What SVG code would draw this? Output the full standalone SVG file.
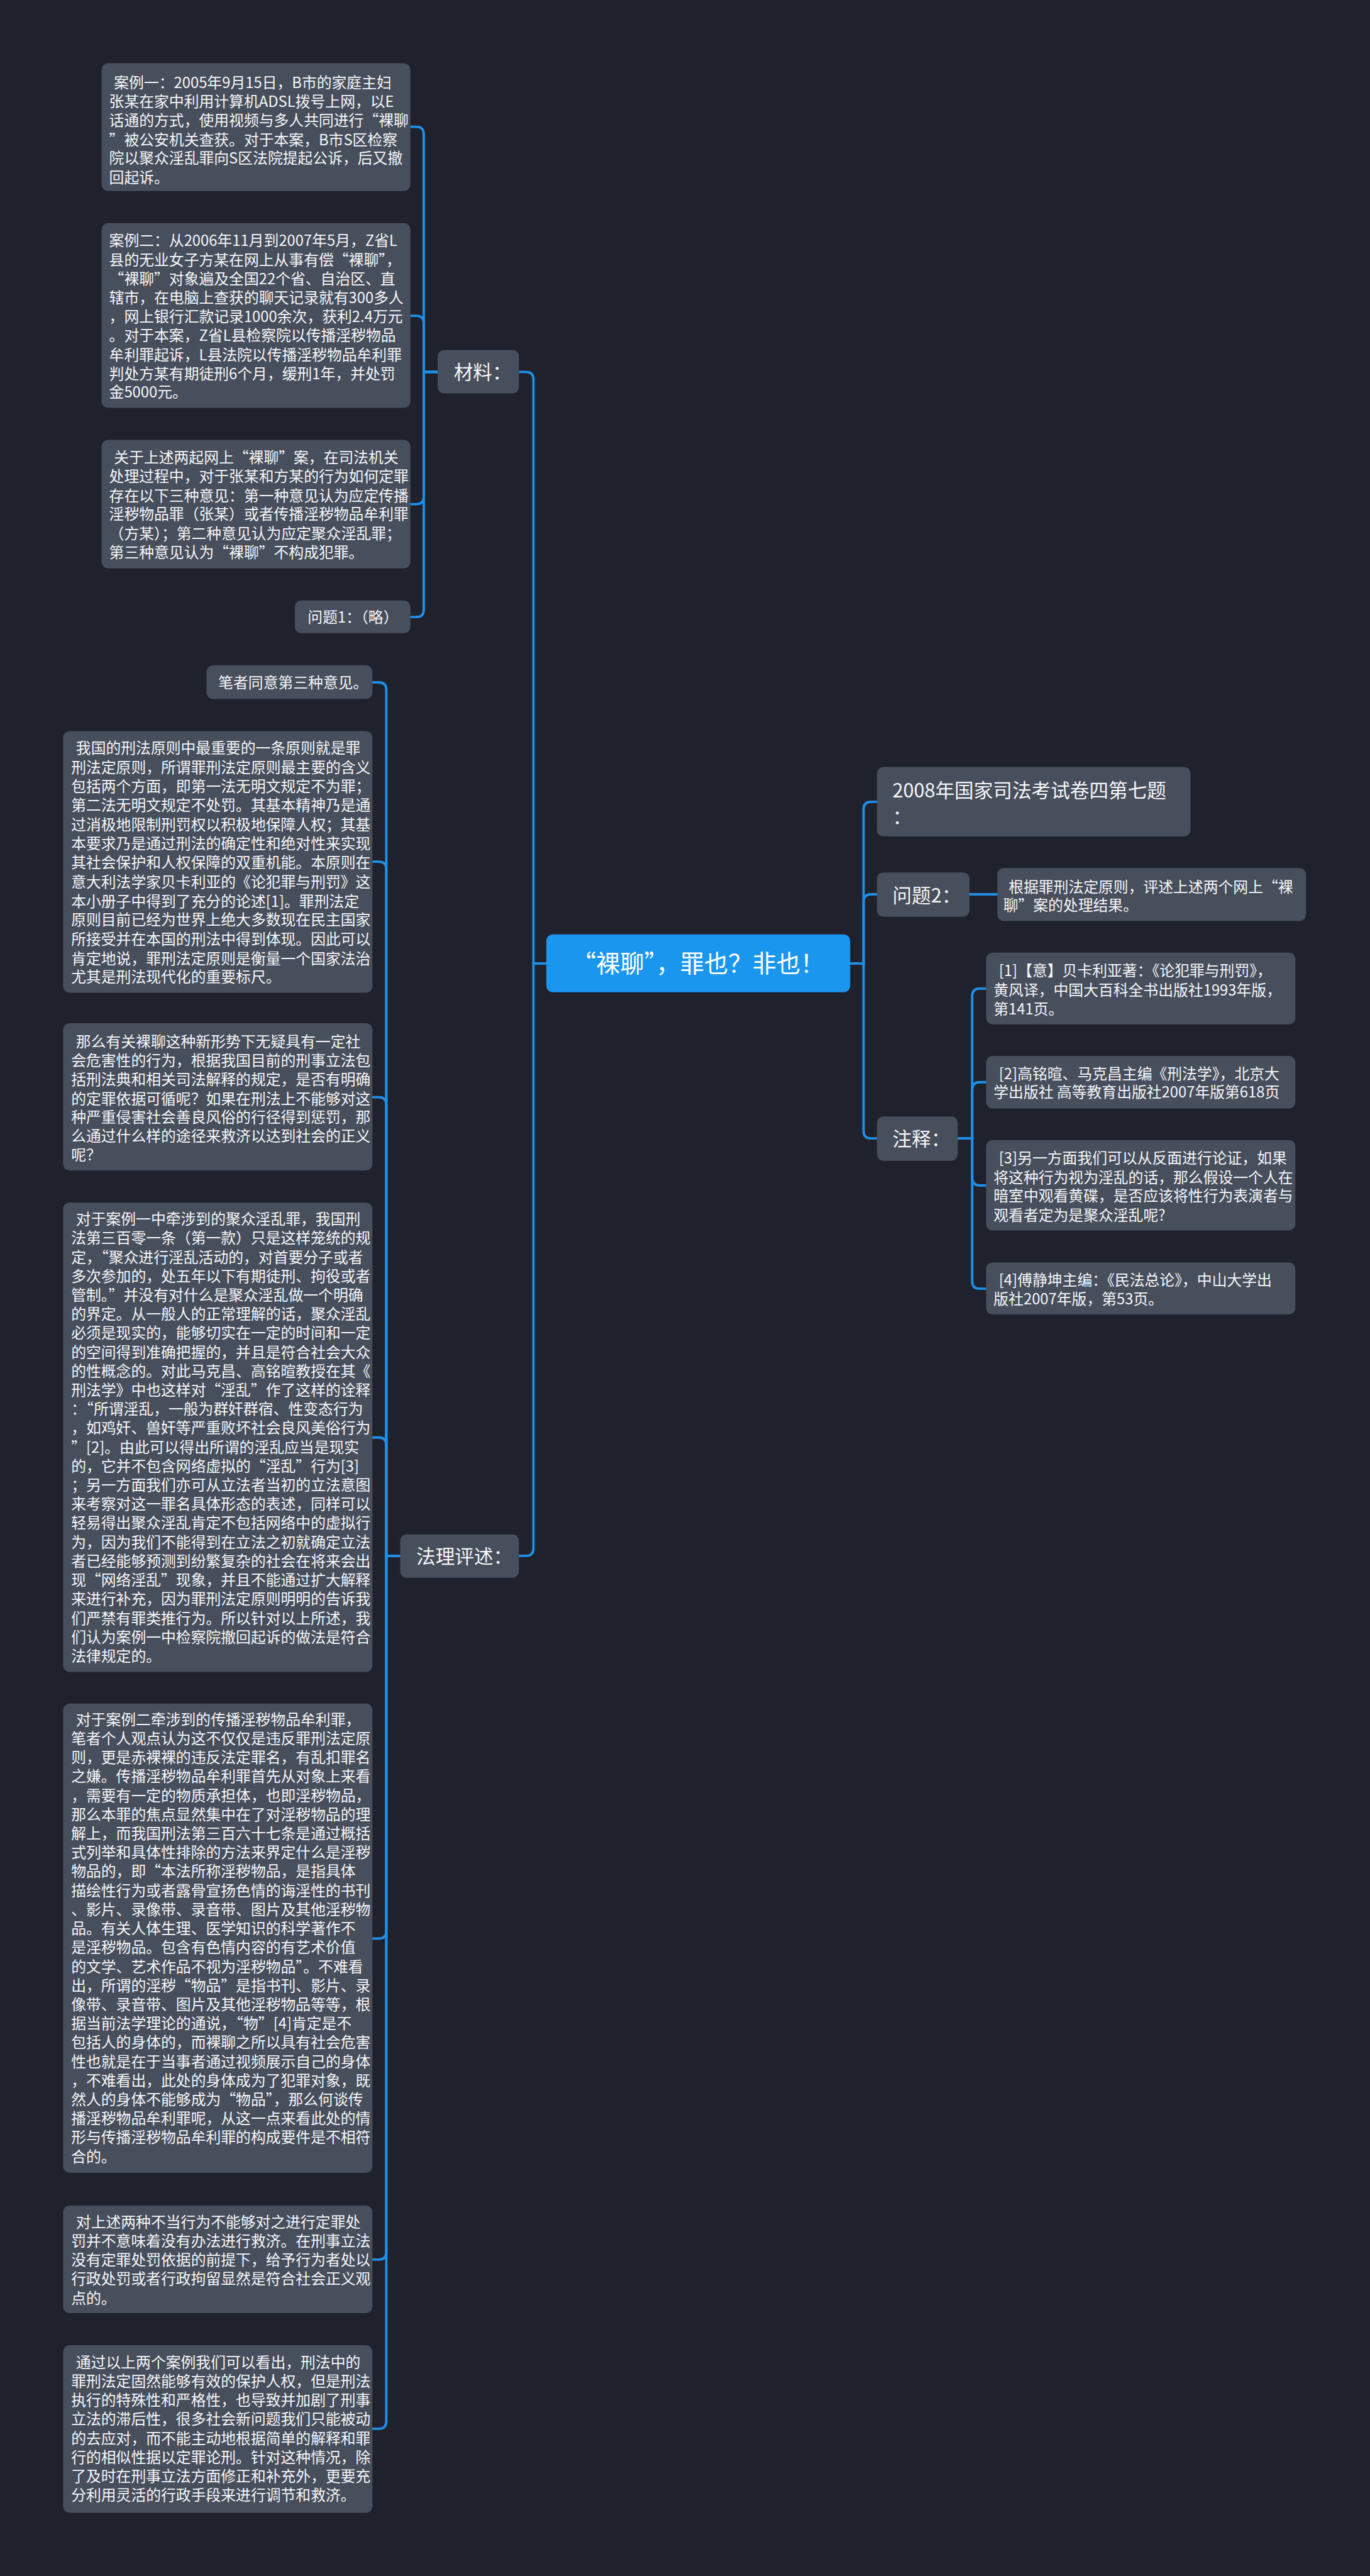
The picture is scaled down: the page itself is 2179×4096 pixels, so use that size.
<svg xmlns="http://www.w3.org/2000/svg" width="2179" height="4096" viewBox="0 0 2179 4096">
<style>
.bg{fill:#1f222d}
.n{fill:#474e5c}
.root{fill:#1b96ef}
.c{fill:none;stroke:#1f8fe6;stroke-width:4.5;stroke-linecap:round}
.t{font-family:"Noto Sans CJK SC","Noto Sans",sans-serif;fill:#f5f6f8;font-size:28px}
.t2{font-size:36px}
.t3{font-size:45px;fill:#ffffff}
</style>
<rect class="bg" x="0" y="0" width="2179" height="4096"/>
<g transform="scale(0.851)">
<g id="connectors">
<path class="c" d="M1021,1800 H997 V709 Q997,695 983,695 H970"/>
<path class="c" d="M1021,1800 H997 V2893 Q997,2907 983,2907 H970"/>
<path class="c" d="M818,695 H792 V251 Q792,237 778,237 H767"/>
<path class="c" d="M818,695 H792 V604 Q792,590 778,590 H767"/>
<path class="c" d="M818,695 H792 V928 Q792,942 778,942 H767"/>
<path class="c" d="M818,695 H792 V1139 Q792,1153 778,1153 H767"/>
<path class="c" d="M748,2907 H722 V1289 Q722,1275 708,1275 H696"/>
<path class="c" d="M748,2907 H722 V1624 Q722,1610 708,1610 H696"/>
<path class="c" d="M748,2907 H722 V2064 Q722,2050 708,2050 H696"/>
<path class="c" d="M748,2907 H722 V2700 Q722,2686 708,2686 H696"/>
<path class="c" d="M748,2907 H722 V3608 Q722,3622 708,3622 H696"/>
<path class="c" d="M748,2907 H722 V4208 Q722,4222 708,4222 H696"/>
<path class="c" d="M748,2907 H722 V4524 Q722,4538 708,4538 H696"/>
<path class="c" d="M1589,1800 H1614 V1512 Q1614,1498 1628,1498 H1639"/>
<path class="c" d="M1589,1800 H1614 V1685 Q1614,1671 1628,1671 H1639"/>
<path class="c" d="M1589,1800 H1614 V2113 Q1614,2127 1628,2127 H1639"/>
<path class="c" d="M1812,1671 H1864"/>
<path class="c" d="M1790,2127 H1817 V1861 Q1817,1847 1831,1847 H1843"/>
<path class="c" d="M1790,2127 H1817 V2036 Q1817,2022 1831,2022 H1843"/>
<path class="c" d="M1790,2127 H1817 V2201 Q1817,2215 1831,2215 H1843"/>
<path class="c" d="M1790,2127 H1817 V2394 Q1817,2408 1831,2408 H1843"/>
</g>

<g id="root">
<rect class="root" x="1021" y="1746" width="568" height="108" rx="12"/>
<text class="t t3" x="1305" y="1817" text-anchor="middle" textLength="472" lengthAdjust="spacing">“裸聊”，罪也？非也！</text>
</g>

<g id="cailiao">
<rect class="n" x="818" y="654" width="152" height="81" rx="12"/>
<text class="t t2" x="848" y="709">材料：</text>
</g>
<g id="falipingshu">
<rect class="n" x="748" y="2867" width="222" height="81" rx="12"/>
<text class="t t2" x="778" y="2921">法理评述：</text>
</g>
<g id="kaoshi">
<rect class="n" x="1639" y="1433" width="586" height="130" rx="12"/>
<text class="t t2"><tspan x="1668" y="1490">2008年国家司法考试卷四第七题</tspan><tspan x="1668" y="1539">：</tspan></text>
</g>
<g id="wenti2">
<rect class="n" x="1639" y="1630" width="173" height="83" rx="12"/>
<text class="t t2" x="1668" y="1686">问题2：</text>
</g>
<g id="zhushi">
<rect class="n" x="1639" y="2086" width="151" height="83" rx="12"/>
<text class="t t2" x="1668" y="2141">注释：</text>
</g>

<g id="wenti2-leaf">
<rect class="n" x="1864" y="1622" width="577" height="99" rx="12"/>
<text class="t"><tspan x="1885" y="1667">根据罪刑法定原则，评述上述两个网上“裸</tspan><tspan x="1875" y="1702">聊”案的处理结果。</tspan></text>
</g>

<g id="note1">
<rect class="n" x="1843" y="1780" width="578" height="134" rx="12"/>
<text class="t"><tspan x="1867" y="1824">[1]【意】贝卡利亚著：《论犯罪与刑罚》，</tspan><tspan x="1857" y="1860">黄风译，中国大百科全书出版社1993年版，</tspan><tspan x="1857" y="1895">第141页。</tspan></text>
</g>
<g id="note2">
<rect class="n" x="1843" y="1973" width="578" height="98" rx="12"/>
<text class="t"><tspan x="1867" y="2016">[2]高铭暄、马克昌主编《刑法学》，北京大</tspan><tspan x="1857" y="2051">学出版社 高等教育出版社2007年版第618页</tspan></text>
</g>
<g id="note3">
<rect class="n" x="1843" y="2130" width="578" height="169" rx="12"/>
<text class="t"><tspan x="1867" y="2174">[3]另一方面我们可以从反面进行论证，如果</tspan><tspan x="1857" y="2210">将这种行为视为淫乱的话，那么假设一个人在</tspan><tspan x="1857" y="2245">暗室中观看黄碟，是否应该将性行为表演者与</tspan><tspan x="1857" y="2281">观看者定为是聚众淫乱呢?</tspan></text>
</g>
<g id="note4">
<rect class="n" x="1843" y="2359" width="578" height="97" rx="12"/>
<text class="t"><tspan x="1867" y="2402">[4]傅静坤主编：《民法总论》，中山大学出</tspan><tspan x="1857" y="2437">版社2007年版，第53页。</tspan></text>
</g>

<g id="case1">
<rect class="n" x="190" y="118" width="577" height="239" rx="12"/>
<text class="t"><tspan x="213" y="164">案例一：2005年9月15日，B市的家庭主妇</tspan><tspan x="204" y="200">张某在家中利用计算机ADSL拨号上网，以E</tspan><tspan x="204" y="235">话通的方式，使用视频与多人共同进行“裸聊</tspan><tspan x="204" y="271">”被公安机关查获。对于本案，B市S区检察</tspan><tspan x="204" y="306">院以聚众淫乱罪向S区法院提起公诉，后又撤</tspan><tspan x="204" y="342">回起诉。</tspan></text>
</g>
<g id="case2">
<rect class="n" x="190" y="417" width="577" height="345" rx="12"/>
<text class="t"><tspan x="204" y="460">案例二：从2006年11月到2007年5月，Z省L</tspan><tspan x="204" y="496">县的无业女子方某在网上从事有偿“裸聊”，</tspan><tspan x="204" y="531">“裸聊”对象遍及全国22个省、自治区、直</tspan><tspan x="204" y="566">辖市，在电脑上查获的聊天记录就有300多人</tspan><tspan x="204" y="602">，网上银行汇款记录1000余次，获利2.4万元</tspan><tspan x="204" y="637">。对于本案，Z省L县检察院以传播淫秽物品</tspan><tspan x="204" y="673">牟利罪起诉，L县法院以传播淫秽物品牟利罪</tspan><tspan x="204" y="708">判处方某有期徒刑6个月，缓刑1年，并处罚</tspan><tspan x="204" y="743">金5000元。</tspan></text>
</g>
<g id="case3">
<rect class="n" x="190" y="822" width="577" height="240" rx="12"/>
<text class="t"><tspan x="213" y="865">关于上述两起网上“裸聊”案，在司法机关</tspan><tspan x="204" y="900">处理过程中，对于张某和方某的行为如何定罪</tspan><tspan x="204" y="936">存在以下三种意见：第一种意见认为应定传播</tspan><tspan x="204" y="971">淫秽物品罪（张某）或者传播淫秽物品牟利罪</tspan><tspan x="204" y="1007">（方某）；第二种意见认为应定聚众淫乱罪；</tspan><tspan x="204" y="1042">第三种意见认为“裸聊”不构成犯罪。</tspan></text>
</g>
<g id="wenti1">
<rect class="n" x="551" y="1122" width="216" height="61" rx="12"/>
<text class="t" x="575" y="1163">问题1：（略）</text>
</g>

<g id="bizhe">
<rect class="n" x="386" y="1243" width="310" height="63" rx="12"/>
<text class="t" x="408" y="1285">笔者同意第三种意见。</text>
</g>
<g id="para1">
<rect class="n" x="118" y="1366" width="578" height="489" rx="12"/>
<text class="t"><tspan x="142" y="1408">我国的刑法原则中最重要的一条原则就是罪</tspan><tspan x="133" y="1444">刑法定原则，所谓罪刑法定原则最主要的含义</tspan><tspan x="133" y="1479">包括两个方面，即第一法无明文规定不为罪；</tspan><tspan x="133" y="1515">第二法无明文规定不处罚。其基本精神乃是通</tspan><tspan x="133" y="1551">过消极地限制刑罚权以积极地保障人权；其基</tspan><tspan x="133" y="1586">本要求乃是通过刑法的确定性和绝对性来实现</tspan><tspan x="133" y="1622">其社会保护和人权保障的双重机能。本原则在</tspan><tspan x="133" y="1658">意大利法学家贝卡利亚的《论犯罪与刑罚》这</tspan><tspan x="133" y="1694">本小册子中得到了充分的论述[1]。罪刑法定</tspan><tspan x="133" y="1729">原则目前已经为世界上绝大多数现在民主国家</tspan><tspan x="133" y="1765">所接受并在本国的刑法中得到体现。因此可以</tspan><tspan x="133" y="1801">肯定地说，罪刑法定原则是衡量一个国家法治</tspan><tspan x="133" y="1836">尤其是刑法现代化的重要标尺。</tspan></text>
</g>
<g id="para2">
<rect class="n" x="118" y="1912" width="578" height="275" rx="12"/>
<text class="t"><tspan x="142" y="1957">那么有关裸聊这种新形势下无疑具有一定社</tspan><tspan x="133" y="1992">会危害性的行为，根据我国目前的刑事立法包</tspan><tspan x="133" y="2027">括刑法典和相关司法解释的规定，是否有明确</tspan><tspan x="133" y="2063">的定罪依据可循呢？如果在刑法上不能够对这</tspan><tspan x="133" y="2098">种严重侵害社会善良风俗的行径得到惩罚，那</tspan><tspan x="133" y="2133">么通过什么样的途径来救济以达到社会的正义</tspan><tspan x="133" y="2168">呢？</tspan></text>
</g>
<g id="para3">
<rect class="n" x="118" y="2247" width="578" height="877" rx="12"/>
<text class="t"><tspan x="142" y="2288">对于案例一中牵涉到的聚众淫乱罪，我国刑</tspan><tspan x="133" y="2323.5">法第三百零一条（第一款）只是这样笼统的规</tspan><tspan x="133" y="2359">定，“聚众进行淫乱活动的，对首要分子或者</tspan><tspan x="133" y="2394.5">多次参加的，处五年以下有期徒刑、拘役或者</tspan><tspan x="133" y="2430">管制。”并没有对什么是聚众淫乱做一个明确</tspan><tspan x="133" y="2465.5">的界定。从一般人的正常理解的话，聚众淫乱</tspan><tspan x="133" y="2501">必须是现实的，能够切实在一定的时间和一定</tspan><tspan x="133" y="2536.5">的空间得到准确把握的，并且是符合社会大众</tspan><tspan x="133" y="2572">的性概念的。对此马克昌、高铭暄教授在其《</tspan><tspan x="133" y="2607.5">刑法学》中也这样对“淫乱”作了这样的诠释</tspan><tspan x="133" y="2643">：“所谓淫乱，一般为群奸群宿、性变态行为</tspan><tspan x="133" y="2678.5">，如鸡奸、兽奸等严重败坏社会良风美俗行为</tspan><tspan x="133" y="2714">”[2]。由此可以得出所谓的淫乱应当是现实</tspan><tspan x="133" y="2749.5">的，它并不包含网络虚拟的“淫乱”行为[3]</tspan><tspan x="133" y="2785">；另一方面我们亦可从立法者当初的立法意图</tspan><tspan x="133" y="2820.5">来考察对这一罪名具体形态的表述，同样可以</tspan><tspan x="133" y="2856">轻易得出聚众淫乱肯定不包括网络中的虚拟行</tspan><tspan x="133" y="2891.5">为，因为我们不能得到在立法之初就确定立法</tspan><tspan x="133" y="2927">者已经能够预测到纷繁复杂的社会在将来会出</tspan><tspan x="133" y="2962.5">现“网络淫乱”现象，并且不能通过扩大解释</tspan><tspan x="133" y="2998">来进行补充，因为罪刑法定原则明明的告诉我</tspan><tspan x="133" y="3033.5">们严禁有罪类推行为。所以针对以上所述，我</tspan><tspan x="133" y="3069">们认为案例一中检察院撤回起诉的做法是符合</tspan><tspan x="133" y="3104.5">法律规定的。</tspan></text>
</g>
<g id="para4">
<rect class="n" x="118" y="3183" width="578" height="877" rx="12"/>
<text class="t"><tspan x="142" y="3223">对于案例二牵涉到的传播淫秽物品牟利罪，</tspan><tspan x="133" y="3258.5">笔者个人观点认为这不仅仅是违反罪刑法定原</tspan><tspan x="133" y="3294">则，更是赤裸裸的违反法定罪名，有乱扣罪名</tspan><tspan x="133" y="3329.5">之嫌。传播淫秽物品牟利罪首先从对象上来看</tspan><tspan x="133" y="3365">，需要有一定的物质承担体，也即淫秽物品，</tspan><tspan x="133" y="3400.5">那么本罪的焦点显然集中在了对淫秽物品的理</tspan><tspan x="133" y="3436">解上，而我国刑法第三百六十七条是通过概括</tspan><tspan x="133" y="3471.5">式列举和具体性排除的方法来界定什么是淫秽</tspan><tspan x="133" y="3507">物品的，即“本法所称淫秽物品，是指具体</tspan><tspan x="133" y="3542.5">描绘性行为或者露骨宣扬色情的诲淫性的书刊</tspan><tspan x="133" y="3578">、影片、录像带、录音带、图片及其他淫秽物</tspan><tspan x="133" y="3613.5">品。有关人体生理、医学知识的科学著作不</tspan><tspan x="133" y="3649">是淫秽物品。包含有色情内容的有艺术价值</tspan><tspan x="133" y="3684.5">的文学、艺术作品不视为淫秽物品”。不难看</tspan><tspan x="133" y="3720">出，所谓的淫秽“物品”是指书刊、影片、录</tspan><tspan x="133" y="3755.5">像带、录音带、图片及其他淫秽物品等等，根</tspan><tspan x="133" y="3791">据当前法学理论的通说，“物”[4]肯定是不</tspan><tspan x="133" y="3826.5">包括人的身体的，而裸聊之所以具有社会危害</tspan><tspan x="133" y="3862">性也就是在于当事者通过视频展示自己的身体</tspan><tspan x="133" y="3897.5">，不难看出，此处的身体成为了犯罪对象，既</tspan><tspan x="133" y="3933">然人的身体不能够成为“物品”，那么何谈传</tspan><tspan x="133" y="3968.5">播淫秽物品牟利罪呢，从这一点来看此处的情</tspan><tspan x="133" y="4004">形与传播淫秽物品牟利罪的构成要件是不相符</tspan><tspan x="133" y="4039.5">合的。</tspan></text>
</g>
<g id="para5">
<rect class="n" x="118" y="4121" width="578" height="201" rx="12"/>
<text class="t"><tspan x="142" y="4162">对上述两种不当行为不能够对之进行定罪处</tspan><tspan x="133" y="4197.5">罚并不意味着没有办法进行救济。在刑事立法</tspan><tspan x="133" y="4233">没有定罪处罚依据的前提下，给予行为者处以</tspan><tspan x="133" y="4268.5">行政处罚或者行政拘留显然是符合社会正义观</tspan><tspan x="133" y="4304">点的。</tspan></text>
</g>
<g id="para6">
<rect class="n" x="118" y="4382" width="578" height="313" rx="12"/>
<text class="t"><tspan x="142" y="4424">通过以上两个案例我们可以看出，刑法中的</tspan><tspan x="133" y="4459.5">罪刑法定固然能够有效的保护人权，但是刑法</tspan><tspan x="133" y="4495">执行的特殊性和严格性，也导致并加剧了刑事</tspan><tspan x="133" y="4530.5">立法的滞后性，很多社会新问题我们只能被动</tspan><tspan x="133" y="4566">的去应对，而不能主动地根据简单的解释和罪</tspan><tspan x="133" y="4601.5">行的相似性据以定罪论刑。针对这种情况，除</tspan><tspan x="133" y="4637">了及时在刑事立法方面修正和补充外，更要充</tspan><tspan x="133" y="4672.5">分利用灵活的行政手段来进行调节和救济。</tspan></text>
</g>
</g>
</svg>
